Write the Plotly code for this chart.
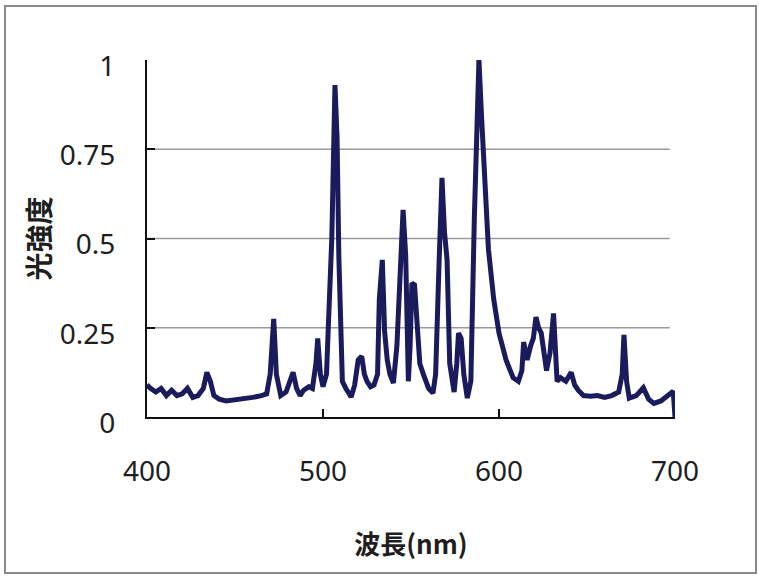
import plotly.graph_objects as go

# Emission spectrum: wavelength (nm) and relative intensity
wavelength = [
    400, 402, 405, 408, 411, 414, 417, 420, 423, 426, 429, 432, 434, 436, 438,
    441, 445, 450, 455, 460, 465, 468, 470, 472, 473.5, 476, 479, 481, 483, 485,
    487, 489, 492, 494, 496, 497, 498.5, 500, 502, 503, 504, 505, 506.8, 508,
    509, 510, 511, 513, 516, 518, 520, 522, 523.5, 525, 527, 529, 531, 532,
    533.7, 535, 536.5, 538, 540, 542, 543, 545.5, 547, 548.5, 549.5, 550.5, 552,
    553.5, 555, 557, 560, 562.5, 564, 566, 567.6, 569, 570.5, 572, 574.5, 576,
    577, 578.5, 580, 582, 584, 586, 587.5, 588.6, 590, 592, 594, 597, 600, 604,
    608, 611, 613, 614, 616, 618, 619.5, 621, 622.5, 624, 625.5, 627, 629, 631,
    633, 635, 638, 641, 643, 645, 648, 652, 656, 660, 664, 668, 670, 671, 672.5,
    674, 678, 682, 685, 688, 692, 696, 699, 700,
]
intensity = [
    0.09, 0.08, 0.07, 0.08, 0.06, 0.075, 0.06, 0.065, 0.08, 0.055, 0.06, 0.08, 0.125, 0.10, 0.06,
    0.05, 0.045, 0.048, 0.05, 0.055, 0.06, 0.065, 0.12, 0.275, 0.12, 0.06, 0.07, 0.10, 0.125, 0.08,
    0.06, 0.075, 0.085, 0.08, 0.15, 0.22, 0.12, 0.085, 0.12, 0.25, 0.36, 0.50, 0.93, 0.78,
    0.45, 0.20, 0.10, 0.08, 0.056, 0.09, 0.16, 0.17, 0.12, 0.10, 0.085, 0.09, 0.12, 0.33,
    0.44, 0.24, 0.16, 0.12, 0.095, 0.20, 0.33, 0.58, 0.45, 0.10, 0.20, 0.375, 0.37,
    0.25, 0.15, 0.12, 0.08, 0.067, 0.12, 0.44, 0.67, 0.52, 0.44, 0.15, 0.07, 0.15,
    0.235, 0.22, 0.12, 0.053, 0.10, 0.56, 0.785, 1.0, 0.85, 0.655, 0.47, 0.33, 0.235, 0.16,
    0.11, 0.10, 0.13, 0.21, 0.16, 0.20, 0.22, 0.28, 0.25, 0.235, 0.17, 0.13, 0.18, 0.29,
    0.10, 0.11, 0.10, 0.125, 0.09, 0.075, 0.06, 0.058, 0.06, 0.055, 0.06, 0.07, 0.12, 0.23, 0.10,
    0.053, 0.06, 0.082, 0.05, 0.038, 0.045, 0.06, 0.072, 0.0,
]

x_ticks = [400, 500, 600, 700]
y_ticks = [0, 0.25, 0.5, 0.75, 1]
y_tick_text = ["0", "0.25", "0.5", "0.75", "1"]
grid_levels = [0.25, 0.5, 0.75]

x_title = "波長(nm)"
y_title = "光強度"

num_font = "Noto Sans, sans-serif"
cjk_font = "Noto Sans CJK JP, sans-serif"
ink = "#1e1e1e"

L, R, T, B = 147, 84, 60, 159
W, H = 759, 576
pw, ph = W - L - R, H - T - B

fig = go.Figure()
fig.add_trace(go.Scatter(
    x=wavelength, y=intensity, mode="lines",
    line=dict(color="#1a1b5c", width=5),
    hoverinfo="skip", showlegend=False,
))

# horizontal reference lines (none at 0 or 1)
for g in grid_levels:
    fig.add_shape(type="line", xref="x", yref="y", x0=400, x1=697, y0=g, y1=g,
                  line=dict(color="#9a9a9a", width=1.5), layer="below")

# outer frame around the whole figure
def px_to_paper_x(p):
    return (p - L) / pw

def px_to_paper_y(p):
    return (H - B - p) / ph

fig.add_shape(type="rect", xref="paper", yref="paper",
              x0=px_to_paper_x(5), x1=px_to_paper_x(756),
              y0=px_to_paper_y(573), y1=px_to_paper_y(6),
              line=dict(color="#8a8a8a", width=2))

fig.update_layout(
    width=W, height=H,
    margin=dict(l=L, r=R, t=T, b=B, autoexpand=False),
    paper_bgcolor="white", plot_bgcolor="white",
    xaxis=dict(
        range=[400, 700], tickvals=x_ticks, showgrid=False, zeroline=False,
        showline=True, linecolor="#111111", linewidth=2,
        ticks="inside", ticklen=8, tickwidth=2, tickcolor="#111111",
        tickfont=dict(family=num_font, size=28, color=ink),
        ticklabelstandoff=28,
        title=dict(text=x_title, font=dict(family=cjk_font, size=26, color=ink, weight="bold"),
                   standoff=48),
    ),
    yaxis=dict(
        range=[0, 1], tickvals=y_ticks, ticktext=y_tick_text, showgrid=False, zeroline=False,
        showline=True, linecolor="#111111", linewidth=2,
        ticks="inside", ticklen=8, tickwidth=2, tickcolor="#111111",
        tickfont=dict(family=num_font, size=28, color=ink),
        ticklabelstandoff=24, ticklabelshift=6,
        title=dict(text=y_title, font=dict(family=cjk_font, size=28, color=ink, weight="bold"),
                   standoff=1),
    ),
)

fig.write_html("out.html")
